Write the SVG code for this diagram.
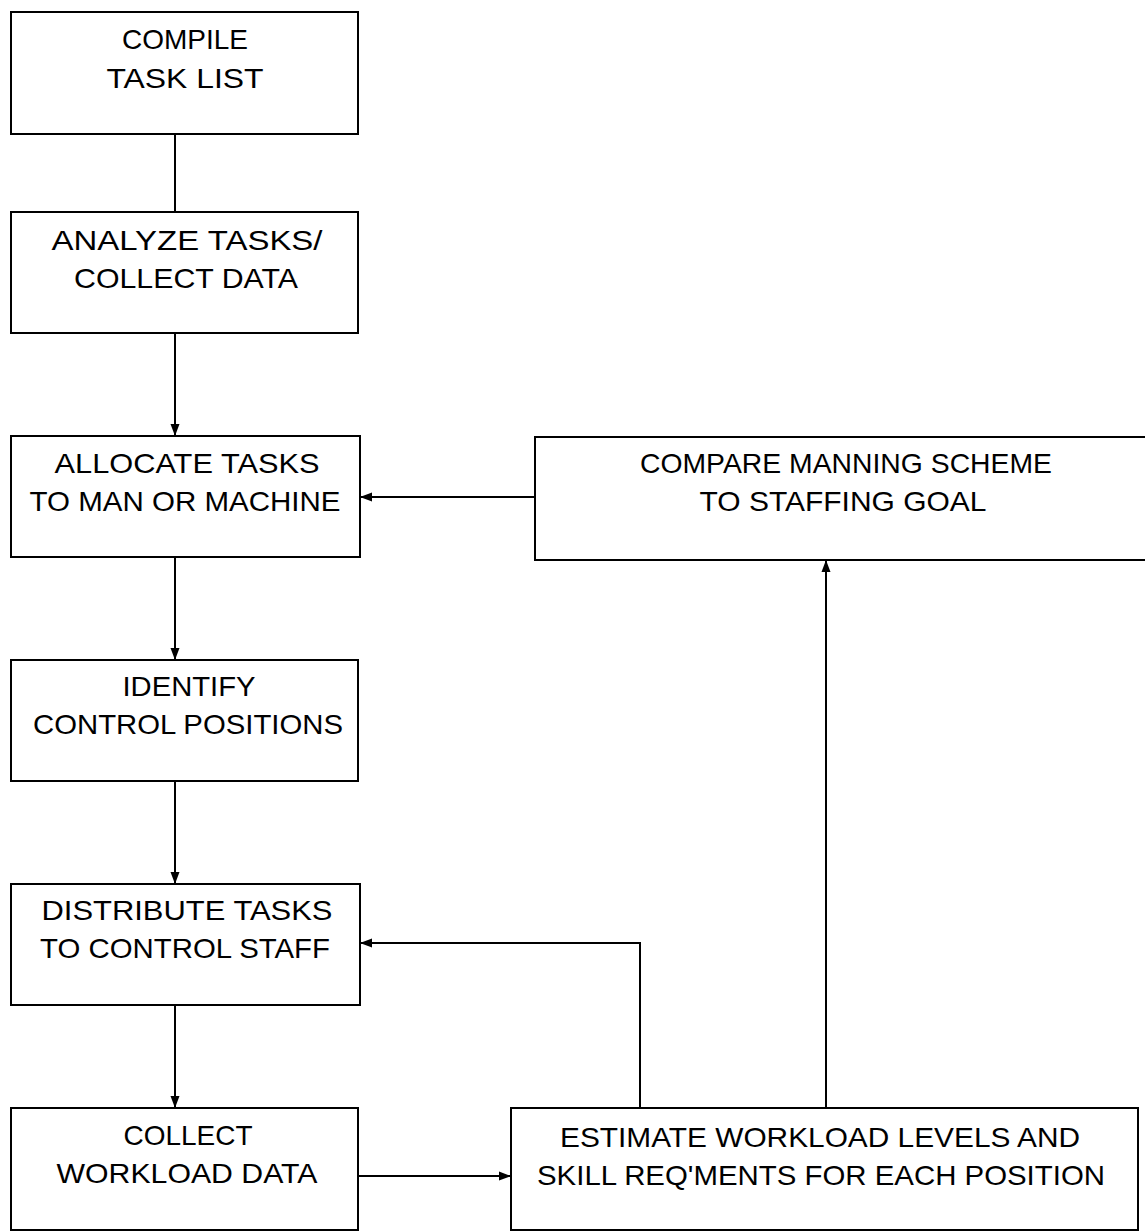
<svg xmlns="http://www.w3.org/2000/svg" width="1145" height="1232" viewBox="0 0 1145 1232">
<style>
.box{fill:#fff;stroke:#000;stroke-width:2}
.t{font-family:"Liberation Sans","DejaVu Sans",sans-serif;font-size:28px;fill:#000;text-anchor:middle}
.c{fill:none;stroke:#000;stroke-width:2}
</style>
<defs>
<marker id="ah" viewBox="0 0 12 10" refX="12" refY="5" markerWidth="12" markerHeight="10" markerUnits="userSpaceOnUse" orient="auto">
<path d="M0,0.5 L12,5 L0,9.5 Z" fill="#000"/>
</marker>
</defs>
<rect width="1145" height="1232" fill="#fff"/>
<g id="connectors">
<path class="c" d="M175,134 V212"/>
<path class="c" d="M175,333 V436" marker-end="url(#ah)"/>
<path class="c" d="M535,497 H360" marker-end="url(#ah)"/>
<path class="c" d="M175,557 V660" marker-end="url(#ah)"/>
<path class="c" d="M175,781 V884" marker-end="url(#ah)"/>
<path class="c" d="M175,1005 V1108" marker-end="url(#ah)"/>
<path class="c" d="M358,1176 H511" marker-end="url(#ah)"/>
<path class="c" d="M640,1108 V943 H360" marker-end="url(#ah)"/>
<path class="c" d="M826,1108 V560" marker-end="url(#ah)"/>
</g>
<g id="compile">
<rect class="box" x="11" y="12" width="347" height="122"/>
<text class="t" x="185" y="49" textLength="126" lengthAdjust="spacingAndGlyphs">COMPILE</text>
<text class="t" x="185" y="88" textLength="157" lengthAdjust="spacingAndGlyphs">TASK LIST</text>
</g>
<g id="analyze">
<rect class="box" x="11" y="212" width="347" height="121"/>
<text class="t" x="187" y="250" textLength="271" lengthAdjust="spacingAndGlyphs">ANALYZE TASKS/</text>
<text class="t" x="186" y="288" textLength="224" lengthAdjust="spacingAndGlyphs">COLLECT DATA</text>
</g>
<g id="allocate">
<rect class="box" x="11" y="436" width="349" height="121"/>
<text class="t" x="187" y="473" textLength="265" lengthAdjust="spacingAndGlyphs">ALLOCATE TASKS</text>
<text class="t" x="185" y="511" textLength="311" lengthAdjust="spacingAndGlyphs">TO MAN OR MACHINE</text>
</g>
<g id="compare">
<path class="box" d="M1150,437 H535 V560 H1150"/>
<text class="t" x="846" y="473" textLength="412" lengthAdjust="spacingAndGlyphs">COMPARE MANNING SCHEME</text>
<text class="t" x="843" y="511" textLength="287" lengthAdjust="spacingAndGlyphs">TO STAFFING GOAL</text>
</g>
<g id="identify">
<rect class="box" x="11" y="660" width="347" height="121"/>
<text class="t" x="189" y="696" textLength="133" lengthAdjust="spacingAndGlyphs">IDENTIFY</text>
<text class="t" x="188" y="734" textLength="310" lengthAdjust="spacingAndGlyphs">CONTROL POSITIONS</text>
</g>
<g id="distribute">
<rect class="box" x="11" y="884" width="349" height="121"/>
<text class="t" x="187" y="920" textLength="291" lengthAdjust="spacingAndGlyphs">DISTRIBUTE TASKS</text>
<text class="t" x="185" y="958" textLength="290" lengthAdjust="spacingAndGlyphs">TO CONTROL STAFF</text>
</g>
<g id="collect-workload">
<rect class="box" x="11" y="1108" width="347" height="122"/>
<text class="t" x="188" y="1145" textLength="129" lengthAdjust="spacingAndGlyphs">COLLECT</text>
<text class="t" x="187" y="1183" textLength="261" lengthAdjust="spacingAndGlyphs">WORKLOAD DATA</text>
</g>
<g id="estimate">
<rect class="box" x="511" y="1108" width="627" height="122"/>
<text class="t" x="820" y="1147" textLength="520" lengthAdjust="spacingAndGlyphs">ESTIMATE WORKLOAD LEVELS AND</text>
<text class="t" x="821" y="1185" textLength="568" lengthAdjust="spacingAndGlyphs">SKILL REQ'MENTS FOR EACH POSITION</text>
</g>
</svg>
